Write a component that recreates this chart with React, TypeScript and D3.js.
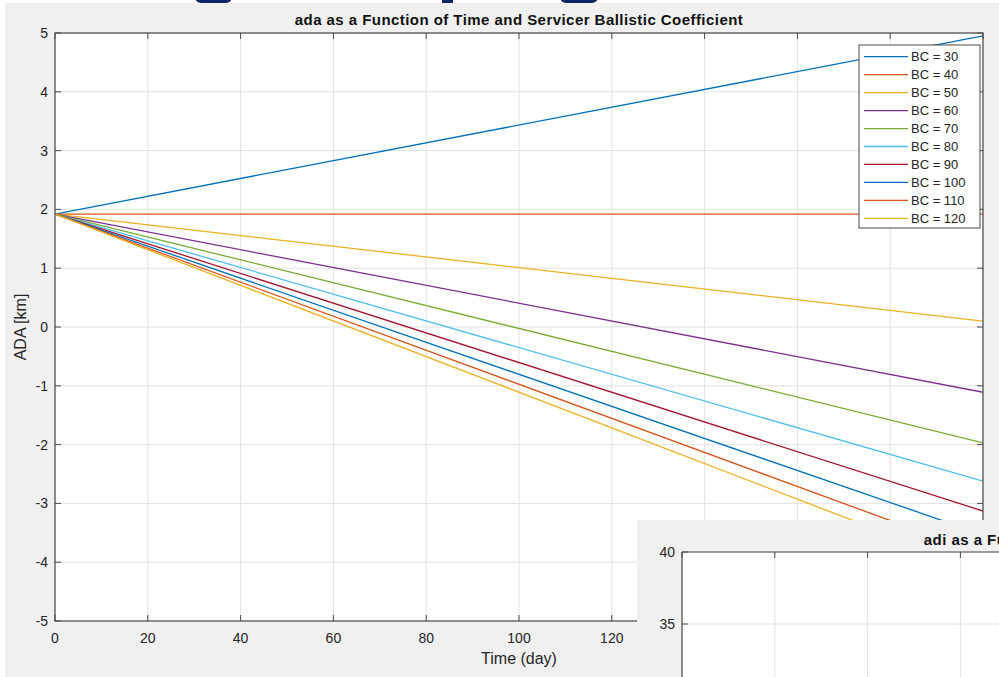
import React from "react";
import * as d3 from "d3";

const bcValues = [30, 40, 50, 60, 70, 80, 90, 100, 110, 120];
const timeDays = [0, 200];
const adaStart = [1.92, 1.92, 1.92, 1.92, 1.92, 1.92, 1.92, 1.92, 1.92, 1.92];
const adaEnd = [4.95, 1.92, 0.1, -1.11, -1.97, -2.62, -3.13, -3.53, -3.87, -4.14];
const seriesColors = ["#0072BD", "#D95319", "#EDB120", "#7E2F8E", "#77AC30", "#4DBEEE", "#A2142F", "#0072BD", "#D95319", "#EDB120"];
const xTicks = [0, 20, 40, 60, 80, 100, 120, 140, 160, 180, 200];
const yTicks = [-5, -4, -3, -2, -1, 0, 1, 2, 3, 4, 5];
const adiTicks = [35, 40];

const W = 999;
const H = 677;
const FONT = "'Liberation Sans', Arial, Helvetica, sans-serif";
const AX = "#4a4a4a";
const GRID = "#e2e2e2";
const TXT = "#262626";

export default function App() {
  const left = 55, right = 983, top = 33, bottom = 621;
  const x = d3.scaleLinear().domain([0, 200]).range([left, right]);
  const y = d3.scaleLinear().domain([-5, 5]).range([bottom, top]);
  const line = d3.line<[number, number]>().x((d) => x(d[0])).y((d) => y(d[1]));

  // second figure
  const l2 = 682, t2 = 552;
  const x2 = d3.scaleLinear().domain([0, 200]).range([l2, l2 + (right - left)]);
  const y2 = d3.scaleLinear().domain([0, 40]).range([t2 + 72 * 8, t2]);

  const legX = 859, legY = 45, legW = 121, legH = 183;
  const rowH = 17.96;

  return (
    <svg width={W} height={H} style={{ position: "absolute", left: 0, top: 0, display: "block" }} fontFamily={FONT}>
      <defs>
        <clipPath id="plotClip">
          <rect x={left} y={top} width={right - left} height={bottom - top} />
        </clipPath>
      </defs>
      <rect x={0} y={0} width={W} height={H} fill="#ffffff" />
      <rect x={5} y={3} width={W - 5} height={H - 3} fill="#f0f0f0" />
      {/* partial navy elements at top */}
      <rect x={195} y={-10} width={37} height={13} rx={6} fill="#0b2566" />
      <rect x={442} y={-10} width={11} height={13} fill="#0b2566" />
      <rect x={560} y={-10} width={38} height={13} rx={6} fill="#0b2566" />

      {/* main axes */}
      <rect x={left} y={top} width={right - left} height={bottom - top} fill="#ffffff" />
      {xTicks.map((t) => (
        <line key={"gx" + t} x1={x(t)} x2={x(t)} y1={top} y2={bottom} stroke={GRID} strokeWidth={1} />
      ))}
      {yTicks.map((t) => (
        <line key={"gy" + t} x1={left} x2={right} y1={y(t)} y2={y(t)} stroke={GRID} strokeWidth={1} />
      ))}
      <g clipPath="url(#plotClip)">
        {bcValues.map((bc, i) => (
          <path
            key={"s" + bc}
            d={line([[timeDays[0], adaStart[i]], [timeDays[1], adaEnd[i]]]) || ""}
            fill="none"
            stroke={seriesColors[i]}
            strokeWidth={1.3}
          />
        ))}
      </g>
      {/* ticks */}
      {xTicks.map((t) => (
        <g key={"tx" + t}>
          <line x1={x(t)} x2={x(t)} y1={bottom} y2={bottom - 6} stroke={AX} />
          <line x1={x(t)} x2={x(t)} y1={top} y2={top + 6} stroke={AX} />
          <text x={x(t)} y={643} textAnchor="middle" fontSize={14} fill={TXT}>{t}</text>
        </g>
      ))}
      {yTicks.map((t) => (
        <g key={"ty" + t}>
          <line x1={left} x2={left + 6} y1={y(t)} y2={y(t)} stroke={AX} />
          <line x1={right} x2={right - 6} y1={y(t)} y2={y(t)} stroke={AX} />
          <text x={48} y={y(t)} dy="0.35em" textAnchor="end" fontSize={14} fill={TXT}>{t}</text>
        </g>
      ))}
      <rect x={left} y={top} width={right - left} height={bottom - top} fill="none" stroke={AX} strokeWidth={1.2} />
      <text x={(left + right) / 2} y={25} textAnchor="middle" fontSize={15} fontWeight="bold" letterSpacing={0.45} fill="#111">
        ada as a Function of Time and Servicer Ballistic Coefficient
      </text>
      <text x={(left + right) / 2} y={664} textAnchor="middle" fontSize={16} fill={TXT}>Time (day)</text>
      <text transform={`translate(26,${(top + bottom) / 2}) rotate(-90)`} textAnchor="middle" fontSize={16} fill={TXT}>ADA [km]</text>

      {/* legend */}
      <rect x={legX} y={legY} width={legW} height={legH} fill="#ffffff" stroke={AX} strokeWidth={1} />
      {bcValues.map((bc, i) => {
        const cy = legY + 11.7 + i * rowH;
        return (
          <g key={"lg" + bc}>
            <line x1={864} x2={908} y1={cy} y2={cy} stroke={seriesColors[i]} strokeWidth={1.3} />
            <text x={911} y={cy} dy="0.35em" fontSize={13} fill={TXT}>{`BC = ${bc}`}</text>
          </g>
        );
      })}

      {/* overlapping second figure */}
      <rect x={637} y={520} width={W - 637} height={H - 520} fill="#f0f0f0" />
      <rect x={l2} y={t2} width={W - l2 + 10} height={H - t2 + 10} fill="#ffffff" />
      {xTicks.map((t) => (
        <line key={"g2x" + t} x1={x2(t)} x2={x2(t)} y1={t2} y2={H} stroke={GRID} strokeWidth={1} />
      ))}
      {adiTicks.map((t) => (
        <line key={"g2y" + t} x1={l2} x2={W} y1={y2(t)} y2={y2(t)} stroke={GRID} strokeWidth={1} />
      ))}
      {xTicks.map((t) => (
        <line key={"t2x" + t} x1={x2(t)} x2={x2(t)} y1={t2} y2={t2 + 6} stroke={AX} />
      ))}
      {adiTicks.map((t) => (
        <g key={"t2y" + t}>
          <line x1={l2} x2={l2 + 6} y1={y2(t)} y2={y2(t)} stroke={AX} />
          <text x={675} y={y2(t)} dy="0.35em" textAnchor="end" fontSize={14} fill={TXT}>{t}</text>
        </g>
      ))}
      <line x1={l2} x2={W} y1={t2} y2={t2} stroke={AX} strokeWidth={1.2} />
      <line x1={l2} x2={l2} y1={t2} y2={H} stroke={AX} strokeWidth={1.2} />
      <text x={(l2 + x2(200)) / 2} y={545} textAnchor="middle" fontSize={15} fontWeight="bold" letterSpacing={0.45} fill="#111">
        adi as a Function of Time and Servicer Ballistic Coefficient
      </text>
    </svg>
  );
}
